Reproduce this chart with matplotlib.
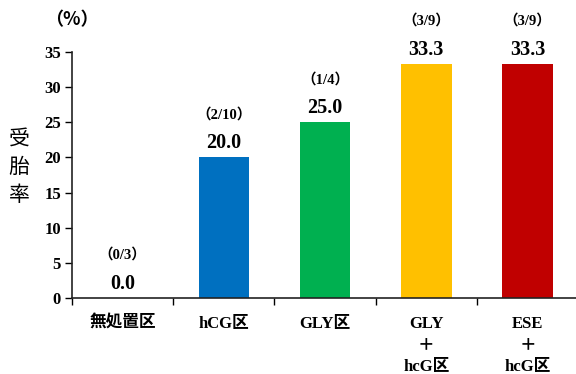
import matplotlib
matplotlib.use("Agg")
import matplotlib.pyplot as plt
import numpy as np

categories = ["無処置区", "hCG区", "GLY区", "GLY\n＋\nhcG区", "ESE\n＋\nhcG区"]
values = [0.0, 20.0, 25.0, 33.3, 33.3]
fractions = ["（0/3）", "（2/10）", "（1/4）", "（3/9）", "（3/9）"]
colors = ["#FFFFFF", "#0070C0", "#00B050", "#FFC000", "#C00000"]
yticks = [0, 5, 10, 15, 20, 25, 30, 35]

serif = ["Liberation Serif", "Noto Sans CJK JP"]
cjk = ["Noto Sans CJK JP", "DejaVu Sans"]

fig = plt.figure(figsize=(5.76, 3.74), dpi=100)
ax = fig.add_axes([72/576, 1 - 298/374, (578 - 72)/576, (298 - 52)/374])

x = np.arange(len(categories))
ax.bar(x, values, width=0.5, color=colors, edgecolor="none")

ax.set_xlim(-0.5, 4.5)
ax.set_ylim(0, 35)
ax.set_yticks(yticks)
ax.set_yticklabels([str(t) for t in yticks], fontfamily=serif, fontweight="bold", fontsize=12)

ax.set_xticks(x)
ax.set_xticklabels(categories, fontfamily=serif, fontweight="bold", fontsize=12, linespacing=1.45, va="top")
ax.set_xticks(np.arange(-0.5, 4.6, 1.0), minor=True)
ax.tick_params(axis="x", which="major", length=0, pad=13)
ax.tick_params(axis="x", which="minor", length=5, width=1, direction="out")
ax.tick_params(axis="y", length=5, width=1, direction="out", pad=3)

for s in ["top", "right"]:
    ax.spines[s].set_visible(False)
for s in ["left", "bottom"]:
    ax.spines[s].set_linewidth(1.2)
    ax.spines[s].set_color("#222222")

for xi, v, fr in zip(x, values, fractions):
    ax.annotate(f"{v:.1f}", (xi, v), xytext=(0, 3), textcoords="offset points",
                ha="center", va="bottom", fontfamily=serif, fontweight="bold", fontsize=14.5)
    ax.annotate(fr, (xi, v), xytext=(0, 26), textcoords="offset points",
                ha="center", va="bottom", fontfamily=serif, fontweight="bold", fontsize=10.5)

fig.text(72/576, 1 - 20/374, "（%）", ha="center", va="center", fontfamily=cjk,
         fontweight="bold", fontsize=13)
fig.text(19/576, 1 - 167/374, "受\n胎\n率", ha="center", va="center", fontfamily=cjk,
         fontsize=15, linespacing=1.35)

fig.savefig("out.png", dpi=100)
